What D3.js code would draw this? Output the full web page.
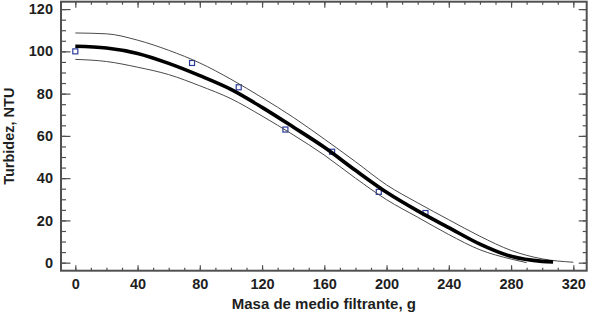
<!DOCTYPE html>
<html>
<head>
<meta charset="utf-8">
<script src="https://cdn.jsdelivr.net/npm/d3@7"></script>
<style>
    body { margin: 0; background: #fff; overflow: hidden; }
    svg { display: block; }
    text { font-family: "Liberation Sans", Arial, sans-serif; font-weight: bold; fill: #1e1e1e; }
</style>
</head>
<body>
<div id="chart-container"></div>
<script>
//gemeten punten (blauwe vierkantjes)
const sampleMass = [0, 75, 105, 135, 165, 195, 225]
const sampleTurbidity = [100, 94.5, 83, 63, 52.5, 33.5, 23.5]

//gefitte curve (dikke lijn)
const fitMass = [0, 20, 40, 60, 80, 100, 120, 140, 160, 180, 200, 220, 240, 260, 280, 300, 307]
const fitTurbidity = [102.4, 101.6, 99, 94.3, 88.5, 82, 73.5, 64.2, 54.6, 43.7, 33.3, 24.5, 16.6, 8.8, 3, 0.6, 0.3]

//bovenste grens (dunne lijn)
const upperMass = [0, 20, 40, 60, 80, 100, 120, 140, 160, 180, 200, 220, 240, 260, 280, 300, 320]
const upperTurbidity = [108.7, 108.3, 105.3, 100.5, 94.5, 86.8, 78.1, 68.8, 58.5, 47.8, 36.8, 28.3, 20.3, 12.5, 5.8, 1.8, 0.2]

//onderste grens (dunne lijn)
const lowerMass = [0, 20, 40, 60, 80, 100, 120, 140, 160, 180, 200, 220, 240, 260, 280, 290]
const lowerTurbidity = [96.2, 95.2, 92.5, 89, 83.7, 77.6, 69.4, 60.5, 50.9, 40, 29.8, 21.5, 13.3, 6.1, 1.7, 0]

//tick labels
const xTicks = [0, 40, 80, 120, 160, 200, 240, 280, 320]
const yTicks = [0, 20, 40, 60, 80, 100, 120]

const xTitle = 'Masa de medio filtrante, g'
const yTitle = 'Turbidez, NTU'

//settings
const width = 592
const height = 313
const margin = { top: 1.7, right: 5.3, bottom: 42.3, left: 61 }
const innerWidth = width - margin.left - margin.right
const innerHeight = height - margin.top - margin.bottom
const axisColor = '#505050'

const xScale = d3.scaleLinear().domain([-9.2, 328.6]).range([0, innerWidth])
const yScale = d3.scaleLinear().domain([-3.8, 123.5]).range([innerHeight, 0])

const zip = (xs, ys) => xs.map((x, i) => ({ x: x, y: ys[i] }))

const svg = d3.select('#chart-container')
    .append('svg')
    .attr('width', width)
    .attr('height', height)

const g = svg.append('g')
    .attr('transform', `translate(${margin.left}, ${margin.top})`)

//minor ticks
const minorX = d3.range(0, 330, 10)
const minorY = d3.range(0, 125, 5)

//assen maken, ticks naar binnen
function addAxis(axis, transform, cls, labels) {
    const a = g.append('g')
        .attr('class', cls)
        .attr('transform', transform)
        .call(axis)
    a.select('.domain').remove()
    a.selectAll('line').attr('stroke', axisColor).attr('stroke-width', 1.2)
    if (!labels) {
        a.selectAll('text').remove() //lege labels weg
    } else {
        a.selectAll('text')
            .style('font-size', '14.5px')
            .style('font-family', '"Liberation Sans", Arial, sans-serif')
            .style('font-weight', 'bold')
            .attr('fill', '#1e1e1e')
    }
    return a
}

addAxis(d3.axisBottom(xScale).tickValues(minorX).tickSize(-3), `translate(0, ${innerHeight})`, 'x-minor', false)
addAxis(d3.axisBottom(xScale).tickValues(xTicks).tickSize(-5.5).tickPadding(8), `translate(0, ${innerHeight})`, 'x-major', true)
addAxis(d3.axisTop(xScale).tickValues(minorX).tickSize(-3), 'translate(0, 0)', 'x-top-minor', false)
addAxis(d3.axisTop(xScale).tickValues(xTicks).tickSize(-6), 'translate(0, 0)', 'x-top', false)

addAxis(d3.axisLeft(yScale).tickValues(minorY).tickSize(-5), 'translate(0, 0)', 'y-minor', false)
addAxis(d3.axisLeft(yScale).tickValues(yTicks).tickSize(-9.5).tickPadding(8), 'translate(0, 0)', 'y-major', true)
addAxis(d3.axisRight(yScale).tickValues(minorY).tickSize(-4), `translate(${innerWidth}, 0)`, 'y-right-minor', false)
addAxis(d3.axisRight(yScale).tickValues(yTicks).tickSize(-8), `translate(${innerWidth}, 0)`, 'y-right', false)

//kader om de grafiek
g.append('rect')
    .attr('width', innerWidth)
    .attr('height', innerHeight)
    .attr('fill', 'none')
    .attr('stroke', axisColor)
    .attr('stroke-width', 2)

//meetpunten
g.selectAll('rect.point')
    .data(zip(sampleMass, sampleTurbidity))
    .enter()
    .append('rect')
    .attr('class', 'point')
    .attr('x', d => xScale(d.x) - 2.5)
    .attr('y', d => yScale(d.y) - 2.5)
    .attr('width', 5)
    .attr('height', 5)
    .attr('fill', 'none')
    .attr('stroke', '#2c3c9c')
    .attr('stroke-width', 1.2)

const line = d3.line()
    .x(d => xScale(d.x))
    .y(d => yScale(d.y))
    .curve(d3.curveMonotoneX)

//grenzen
g.append('path')
    .datum(zip(upperMass, upperTurbidity))
    .attr('d', line)
    .attr('fill', 'none')
    .attr('stroke', '#4a4a4a')
    .attr('stroke-width', 1)

g.append('path')
    .datum(zip(lowerMass, lowerTurbidity))
    .attr('d', line)
    .attr('fill', 'none')
    .attr('stroke', '#4a4a4a')
    .attr('stroke-width', 1)

//fit
g.append('path')
    .datum(zip(fitMass, fitTurbidity))
    .attr('d', line)
    .attr('fill', 'none')
    .attr('stroke', '#000')
    .attr('stroke-width', 3.6)

//as titels
svg.append('text')
    .attr('x', margin.left + innerWidth / 2)
    .attr('y', 309)
    .attr('text-anchor', 'middle')
    .style('font-size', '15px')
    .text(xTitle)

svg.append('text')
    .attr('transform', `translate(14, ${margin.top + innerHeight / 2}) rotate(-90)`)
    .attr('text-anchor', 'middle')
    .style('font-size', '14.5px')
    .text(yTitle)
</script>
</body>
</html>
